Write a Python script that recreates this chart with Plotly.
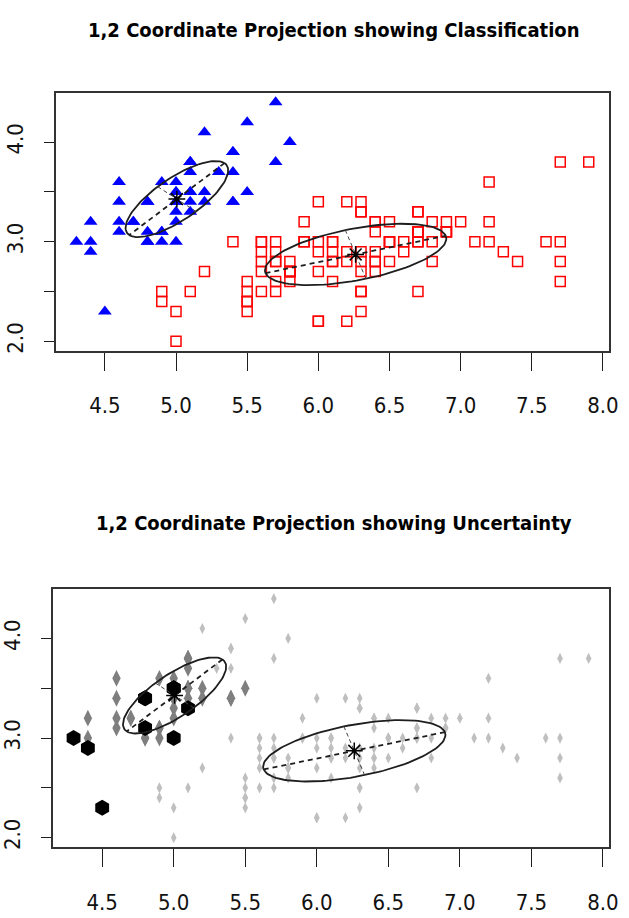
import numpy as np
import plotly.graph_objects as go

# ---------------- data (iris sepal length / width) ----------------
sepal_length = [
    5.1, 4.9, 4.7, 4.6, 5.0, 5.4, 4.6, 5.0, 4.4, 4.9, 5.4, 4.8, 4.8, 4.3, 5.8, 5.7, 5.4, 5.1, 5.7, 5.1,
    5.4, 5.1, 4.6, 5.1, 4.8, 5.0, 5.0, 5.2, 5.2, 4.7, 4.8, 5.4, 5.2, 5.5, 4.9, 5.0, 5.5, 4.9, 4.4, 5.1,
    5.0, 4.5, 4.4, 5.0, 5.1, 4.8, 5.1, 4.6, 5.3, 5.0,
    7.0, 6.4, 6.9, 5.5, 6.5, 5.7, 6.3, 4.9, 6.6, 5.2, 5.0, 5.9, 6.0, 6.1, 5.6, 6.7, 5.6, 5.8, 6.2, 5.6,
    5.9, 6.1, 6.3, 6.1, 6.4, 6.6, 6.8, 6.7, 6.0, 5.7, 5.5, 5.5, 5.8, 6.0, 5.4, 6.0, 6.7, 6.3, 5.6, 5.5,
    5.5, 6.1, 5.8, 5.0, 5.6, 5.7, 5.7, 6.2, 5.1, 5.7,
    6.3, 5.8, 7.1, 6.3, 6.5, 7.6, 4.9, 7.3, 6.7, 7.2, 6.5, 6.4, 6.8, 5.7, 5.8, 6.4, 6.5, 7.7, 7.7, 6.0,
    6.9, 5.6, 7.7, 6.3, 6.7, 7.2, 6.2, 6.1, 6.4, 7.2, 7.4, 7.9, 6.4, 6.3, 6.1, 7.7, 6.3, 6.4, 6.0, 6.9,
    6.7, 6.9, 5.8, 6.8, 6.7, 6.7, 6.3, 6.5, 6.2, 5.9,
]
sepal_width = [
    3.5, 3.0, 3.2, 3.1, 3.6, 3.9, 3.4, 3.4, 2.9, 3.1, 3.7, 3.4, 3.0, 3.0, 4.0, 4.4, 3.9, 3.5, 3.8, 3.8,
    3.4, 3.7, 3.6, 3.3, 3.4, 3.0, 3.4, 3.5, 3.4, 3.2, 3.1, 3.4, 4.1, 4.2, 3.1, 3.2, 3.5, 3.6, 3.0, 3.4,
    3.5, 2.3, 3.2, 3.5, 3.8, 3.0, 3.8, 3.2, 3.7, 3.3,
    3.2, 3.2, 3.1, 2.3, 2.8, 2.8, 3.3, 2.4, 2.9, 2.7, 2.0, 3.0, 2.2, 2.9, 2.9, 3.1, 3.0, 2.7, 2.2, 2.5,
    3.2, 2.8, 2.5, 2.8, 2.9, 3.0, 2.8, 3.0, 2.9, 2.6, 2.4, 2.4, 2.7, 2.7, 3.0, 3.4, 3.1, 2.3, 3.0, 2.5,
    2.6, 3.0, 2.6, 2.3, 2.7, 3.0, 2.9, 2.9, 2.5, 2.8,
    3.3, 2.7, 3.0, 2.9, 3.0, 3.0, 2.5, 2.9, 2.5, 3.6, 3.2, 2.7, 3.0, 2.5, 2.8, 3.2, 3.0, 3.8, 2.6, 2.2,
    3.2, 2.8, 2.8, 2.7, 3.3, 3.2, 2.8, 3.0, 2.8, 3.0, 2.8, 3.8, 2.8, 2.8, 2.6, 3.0, 3.4, 3.1, 3.0, 3.1,
    3.1, 3.1, 2.7, 3.2, 3.3, 3.0, 2.5, 3.0, 3.4, 3.0,
]
# cluster assignment (1 or 2)
classification = [
    1, 1, 1, 1, 1, 1, 1, 1, 1, 1, 1, 1, 1, 1, 1, 1, 1, 1, 1, 1, 1, 1, 1, 1, 1,
    1, 1, 1, 1, 1, 1, 1, 1, 1, 1, 1, 1, 1, 1, 1, 1, 1, 1, 1, 1, 1, 1, 1, 1, 1,
    2, 2, 2, 2, 2, 2, 2, 2, 2, 2, 2, 2, 2, 2, 2, 2, 2, 2, 2, 2, 2, 2, 2, 2, 2,
    2, 2, 2, 2, 2, 2, 2, 2, 2, 2, 2, 2, 2, 2, 2, 2, 2, 2, 2, 2, 2, 2, 2, 2, 2,
    2, 2, 2, 2, 2, 2, 2, 2, 2, 2, 2, 2, 2, 2, 2, 2, 2, 2, 2, 2, 2, 2, 2, 2, 2,
    2, 2, 2, 2, 2, 2, 2, 2, 2, 2, 2, 2, 2, 2, 2, 2, 2, 2, 2, 2, 2, 2, 2, 2, 2,
]
# uncertainty level: 0 = below 75th pct, 1 = 75-95th pct, 2 = above 95th pct
uncertainty_level = [
    1, 1, 1, 1, 1, 0, 1, 1, 2, 1, 0, 2, 1, 2, 0, 0, 0, 1, 0, 1, 1, 1, 1, 2, 2,
    2, 1, 1, 1, 1, 2, 1, 0, 0, 1, 1, 1, 1, 1, 1, 2, 2, 1, 2, 1, 1, 1, 1, 0, 1,
    0, 0, 0, 0, 0, 0, 0, 0, 0, 0, 0, 0, 0, 0, 0, 0, 0, 0, 0, 0, 0, 0, 0, 0, 0,
    0, 0, 0, 0, 0, 0, 0, 0, 0, 0, 0, 0, 0, 0, 0, 0, 0, 0, 0, 0, 0, 0, 0, 0, 0,
    0, 0, 0, 0, 0, 0, 0, 0, 0, 0, 0, 0, 0, 0, 0, 0, 0, 0, 0, 0, 0, 0, 0, 0, 0,
    0, 0, 0, 0, 0, 0, 0, 0, 0, 0, 0, 0, 0, 0, 0, 0, 0, 0, 0, 0, 0, 0, 0, 0, 0,
]
# fitted component means and covariances (sepal length, sepal width)
cluster_means = [[5.006, 3.428], [6.262, 2.872]]
cluster_covs = [[[0.130, 0.104], [0.104, 0.146]],
                [[0.406, 0.101], [0.101, 0.095]]]

x_ticks = [4.5, 5.0, 5.5, 6.0, 6.5, 7.0, 7.5, 8.0]
x_ticktext = ["4.5", "5.0", "5.5", "6.0", "6.5", "7.0", "7.5", "8.0"]
y_ticks = [2.0, 2.5, 3.0, 3.5, 4.0]
y_ticktext = ["2.0", "", "3.0", "", "4.0"]
titles = ["1,2 Coordinate Projection showing Classification",
          "1,2 Coordinate Projection showing Uncertainty"]

# ---------------- figure ----------------
W, H = 629, 918
FONT = "DejaVu Sans Condensed, Liberation Sans Narrow, Liberation Sans, Arial, sans-serif"
LINE = "#1e1e1e"

sl = np.array(sepal_length)
sw = np.array(sepal_width)
cl = np.array(classification)
ul = np.array(uncertainty_level)

fig = go.Figure()

# top: classification
m1 = cl == 1
m2 = cl == 2
fig.add_trace(go.Scatter(x=sl[m1], y=sw[m1], mode="markers", xaxis="x", yaxis="y",
                         marker=dict(symbol="triangle-up", size=12, color="#0000FF",
                                     line=dict(width=0))))
fig.add_trace(go.Scatter(x=sl[m2], y=sw[m2], mode="markers", xaxis="x", yaxis="y",
                         marker=dict(symbol="square-open", size=10, color="#FF0000",
                                     line=dict(width=1.5, color="#FF0000"))))

# bottom: uncertainty
unc_styles = {0: dict(symbol="diamond-tall", size=8, color="#BFBFBF"),
              1: dict(symbol="diamond-tall", size=12, color="#7F7F7F"),
              2: dict(symbol="hexagon", size=16, color="#000000")}
for lev in [0, 1, 2]:
    m = ul == lev
    st = unc_styles[lev]
    fig.add_trace(go.Scatter(x=sl[m], y=sw[m], mode="markers", xaxis="x2", yaxis="y2",
                             marker=dict(symbol=st["symbol"], size=st["size"], color=st["color"],
                                         line=dict(width=0))))


def ellipse_parts(mu, sigma):
    mu = np.array(mu)
    ev, evec = np.linalg.eigh(np.array(sigma))
    order = np.argsort(ev)[::-1]
    s = np.sqrt(ev[order])
    V = evec[:, order]
    t = np.linspace(0, 2 * np.pi, 121)
    pts = (V @ np.vstack([s[0] * np.cos(t), s[1] * np.sin(t)])).T + mu
    major = np.array([mu + s[0] * V[:, 0], mu - s[0] * V[:, 0]])
    minor = np.array([mu + s[1] * V[:, 1], mu - s[1] * V[:, 1]])
    return pts, major, minor


for xa, ya in [("x", "y"), ("x2", "y2")]:
    for mu, sig in zip(cluster_means, cluster_covs):
        pts, major, minor = ellipse_parts(mu, sig)
        fig.add_trace(go.Scatter(x=pts[:, 0], y=pts[:, 1], mode="lines", xaxis=xa, yaxis=ya,
                                 line=dict(color=LINE, width=1.8)))
        fig.add_trace(go.Scatter(x=major[:, 0], y=major[:, 1], mode="lines", xaxis=xa, yaxis=ya,
                                 line=dict(color=LINE, width=1.8, dash="5px,4px")))
        fig.add_trace(go.Scatter(x=minor[:, 0], y=minor[:, 1], mode="lines", xaxis=xa, yaxis=ya,
                                 line=dict(color="#444444", width=1, dash="4px,3px")))
        fig.add_trace(go.Scatter(x=[mu[0]], y=[mu[1]], mode="markers", xaxis=xa, yaxis=ya,
                                 marker=dict(symbol="asterisk-open", size=14, color="#000000",
                                             line=dict(color="#000000", width=1.5))))

xr = [4.156, 8.044]
yr = [1.904, 4.496]

def xaxis(domain, anchor):
    return dict(domain=domain, anchor=anchor, range=xr, tickmode="array", tickvals=x_ticks,
                ticktext=x_ticktext, ticks="outside", ticklen=18, tickwidth=1.3, tickcolor=LINE,
                showline=True, mirror=True, linecolor="#333333", linewidth=2,
                showgrid=False, zeroline=False, ticklabelstandoff=16, ticklabeloverflow="allow",
                tickfont=dict(family=FONT, size=22, color="#111111"))

def yaxis(domain, anchor):
    return dict(domain=domain, anchor=anchor, range=yr, tickmode="array", tickvals=y_ticks,
                ticktext=y_ticktext, ticks="outside", ticklen=10, tickwidth=1.3, tickcolor=LINE,
                showline=True, mirror=True, linecolor="#333333", linewidth=2,
                showgrid=False, zeroline=False, tickangle=-90, ticklabelstandoff=12,
                ticklabeloverflow="allow",
                tickfont=dict(family=FONT, size=22, color="#111111"))

fig.update_layout(
    width=W, height=H, margin=dict(l=0, r=0, t=0, b=0),
    paper_bgcolor="white", plot_bgcolor="white", showlegend=False,
    xaxis=xaxis([53 / W, 618 / W], "y"),
    yaxis=yaxis([1 - 352 / H, 1 - 93 / H], "x"),
    xaxis2=xaxis([50 / W, 618 / W], "y2"),
    yaxis2=yaxis([1 - 850 / H, 1 - 591 / H], "x2"),
    annotations=[
        dict(text="<b>" + titles[0] + "</b>", xref="paper", yref="paper", x=336 / W, y=1 - 30 / H,
             xanchor="center", yanchor="middle", showarrow=False,
             font=dict(family=FONT, size=20, color="#000000")),
        dict(text="<b>" + titles[1] + "</b>", xref="paper", yref="paper", x=337 / W, y=1 - 525 / H,
             xanchor="center", yanchor="middle", showarrow=False,
             font=dict(family=FONT, size=20, color="#000000")),
    ],
)

fig.write_html("out.html")
